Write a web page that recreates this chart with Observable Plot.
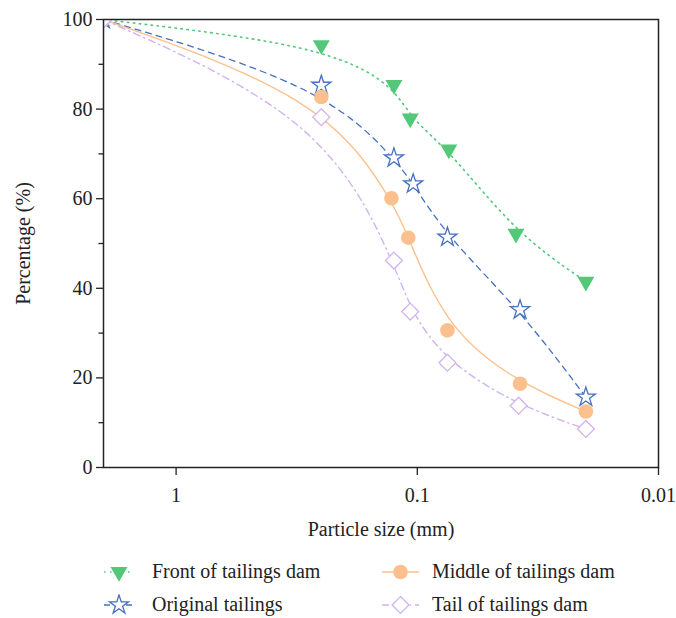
<!DOCTYPE html>
<html>
<head>
<meta charset="utf-8">
<script src="https://cdn.jsdelivr.net/npm/d3@7"></script>
<script src="https://cdn.jsdelivr.net/npm/@observablehq/plot@0.6"></script>
<style>
  body { margin: 0; background: #fff; font-family: "Liberation Serif", serif; }
  #chart svg { display: block; }
  #legend { display: grid; grid-template-columns: 278px auto; padding-left: 104px; padding-top: 10px; font-size: 20px; color: #222; }
  .item { display: flex; align-items: center; height: 33px; }
  .item svg { display: block; }
</style>
</head>
<body>
<div id="chart"></div>
<div id="legend"></div>
<script>
// ---- data ----
const seriesNames = ["Front of tailings dam", "Original tailings", "Middle of tailings dam", "Tail of tailings dam"];

const frontSize = [2, 0.25, 0.125, 0.107, 0.074, 0.039, 0.02];
const frontPct  = [100, 94.3, 85.4, 77.9, 71.0, 52.2, 41.5];

const originalSize = [2, 0.25, 0.125, 0.104, 0.075, 0.0375, 0.02];
const originalPct  = [100, 85.3, 69.1, 63.3, 51.4, 35.2, 15.7];

const middleSize = [2, 0.25, 0.128, 0.109, 0.075, 0.0375, 0.02];
const middlePct  = [100, 82.7, 60.1, 51.3, 30.6, 18.7, 12.5];

const tailSize = [2, 0.25, 0.125, 0.107, 0.075, 0.038, 0.02];
const tailPct  = [100, 78.2, 46.2, 34.8, 23.4, 13.8, 8.6];

const xTicks = [1, 0.1, 0.01];
const xTickLabels = ["1", "0.1", "0.01"];
const yTicks = [0, 20, 40, 60, 80, 100];
const yMinorTicks = [10, 30, 50, 70, 90];

// ---- styles ----
const styles = [
  {color: "#52c878", dash: "1.5,4.5", symbol: "triangle", rotate: 180, r: 6.3, fill: "#52c878", stroke: "none", width: 1.6},
  {color: "#4470c0", dash: "6,5", symbol: "star", rotate: 0, r: 6, fill: "white", stroke: "#4470c0", width: 1.3},
  {color: "#fcc08f", dash: null, symbol: "circle", rotate: 0, r: 7.3, fill: "#fcc08f", stroke: "none", width: 1.4},
  {color: "#d1b3ef", dash: "7,4,1.5,4", symbol: "diamond2", rotate: 0, r: 7.6, fill: "white", stroke: "#d1b3ef", width: 1.4}
];

const sizes = [frontSize, originalSize, middleSize, tailSize];
const pcts = [frontPct, originalPct, middlePct, tailPct];
const tables = seriesNames.map((name, i) => sizes[i].map((s, j) => ({series: name, size: s, pct: pcts[i][j]})));

const marks = [];
tables.forEach((t, i) => {
  const s = styles[i];
  marks.push(Plot.line(t, {x: "size", y: "pct", stroke: s.color, strokeWidth: s.width, strokeDasharray: s.dash, curve: "basis", clip: true}));
});
tables.forEach((t, i) => {
  const s = styles[i];
  marks.push(Plot.dot(t, {x: "size", y: "pct", symbol: s.symbol, r: s.r, rotate: s.rotate, fill: s.fill, stroke: s.stroke, strokeWidth: 1.3, fillOpacity: 1, clip: true}));
});

const chart = Plot.plot({
  width: 676,
  height: 545,
  marginLeft: 103,
  marginRight: 18,
  marginTop: 19,
  marginBottom: 78,
  style: {fontFamily: "Liberation Serif", fontSize: "20px", color: "#222", background: "white"},
  x: {type: "log", domain: [2, 0.01]},
  y: {domain: [0, 100]},
  marks: [
    ...marks,
    Plot.frame({stroke: "#222", strokeWidth: 1.5}),
    Plot.axisY(yTicks, {tickSize: 7, tickPadding: 4, strokeWidth: 1.3, label: "Percentage (%)", labelAnchor: "center", labelArrow: "none", labelOffset: 88, fontSize: 20}),
    Plot.axisY(yMinorTicks, {tickSize: 4.5, strokeWidth: 1.3, text: null, label: null}),
    Plot.axisX(xTicks, {tickSize: 8, tickPadding: 12, strokeWidth: 1.3, tickFormat: (d, i) => xTickLabels[xTicks.indexOf(d)], label: "Particle size (mm)", labelAnchor: "center", labelArrow: "none", labelOffset: 68, fontSize: 20})
  ]
});
document.getElementById("chart").appendChild(chart);

// ---- legend ----
const legend = d3.select("#legend");
const order = [0, 2, 1, 3];
const swatchW = [30, 37];
const gaps = [18, 13];
order.forEach((idx, k) => {
  const col = k % 2;
  const s = styles[idx];
  const w = swatchW[col];
  const item = legend.append("div").attr("class", "item");
  const svg = item.append("svg").attr("width", w).attr("height", 22);
  svg.append("line").attr("x1", 0).attr("x2", w).attr("y1", 11).attr("y2", 11)
    .attr("stroke", s.color).attr("stroke-width", s.width).attr("stroke-dasharray", s.dash);
  const symMap = {triangle: d3.symbolTriangle, star: d3.symbolStar, circle: d3.symbolCircle, diamond2: d3.symbolDiamond2};
  svg.append("path").attr("d", d3.symbol(symMap[s.symbol], s.r * s.r * Math.PI)())
    .attr("transform", `translate(${w / 2},11) rotate(${s.rotate})`)
    .attr("fill", s.fill).attr("stroke", s.stroke).attr("stroke-width", 1.3);
  item.append("span").style("margin-left", gaps[col] + "px").text(seriesNames[idx]);
});
</script>
</body>
</html>
